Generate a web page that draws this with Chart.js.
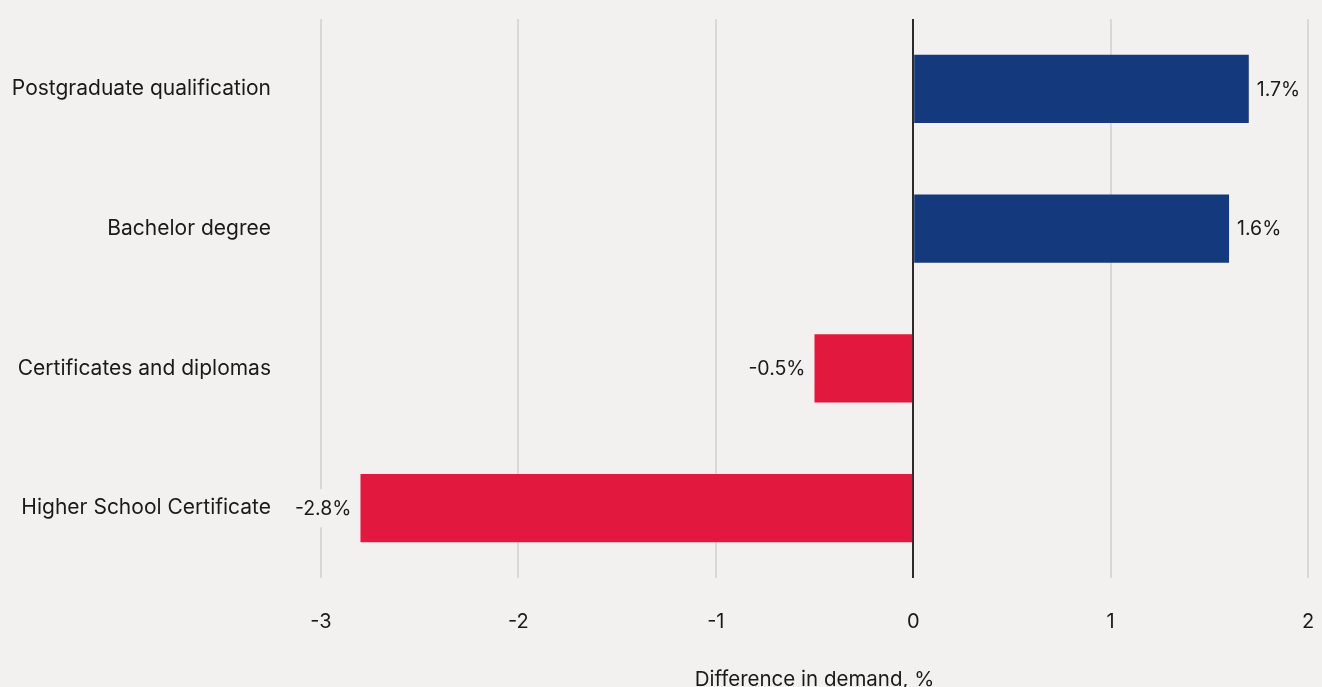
<!DOCTYPE html>
<html>
<head>
<meta charset="utf-8">
<script src="https://cdn.jsdelivr.net/npm/chart.js@4"></script>
<style>
  body { margin: 0; background: #f2f1ef; }
  canvas { display: block; }
</style>
</head>
<body>
<canvas id="chart" width="1322" height="687"></canvas>
<script>
const categories = ['Postgraduate qualification', 'Bachelor degree', 'Certificates and diplomas', 'Higher School Certificate'];
const values = [1.7, 1.6, -0.5, -2.8];
const xTicks = [-3, -2, -1, 0, 1, 2];

const BG = '#f2f1ef';
const FONT = 'Inter, "Noto Sans", sans-serif';

// value labels at bar ends, with a patch of background behind them
const barLabels = {
  id: 'barLabels',
  afterDatasetsDraw(chart) {
    const ctx = chart.ctx;
    const meta = chart.getDatasetMeta(0);
    ctx.save();
    ctx.font = '19.5px ' + FONT;
    ctx.textBaseline = 'middle';
    meta.data.forEach((bar, i) => {
      const v = values[i];
      const txt = v.toFixed(1) + '%';
      const w = ctx.measureText(txt).width;
      let x;
      if (v >= 0) {
        x = bar.x + 8;
      } else {
        x = bar.x - 9 - w;
      }
      ctx.fillStyle = BG;
      ctx.fillRect(x - 4, bar.y - 19, w + 8, 38);
      ctx.fillStyle = '#1a1a1a';
      ctx.textAlign = 'left';
      ctx.fillText(txt, x, bar.y + 1);
    });
    ctx.restore();
  }
};

const noPad = (s) => {
  s.paddingLeft = 0; s.paddingRight = 0;
  s.paddingTop = 0; s.paddingBottom = 0;
};

new Chart(document.getElementById('chart'), {
  type: 'bar',
  data: {
    labels: categories,
    datasets: [{
      data: values,
      backgroundColor: values.map(v => v >= 0 ? '#14397d' : '#e3183f'),
      barPercentage: 0.49,
      categoryPercentage: 1
    }]
  },
  options: {
    indexAxis: 'y',
    responsive: false,
    animation: false,
    layout: { padding: { top: 19, right: 14, left: 0, bottom: 0 } },
    plugins: {
      legend: { display: false },
      tooltip: { enabled: false }
    },
    scales: {
      x: {
        min: -3,
        max: 2,
        afterBuildTicks: (s) => { s.ticks = xTicks.map(v => ({ value: v })); },
        afterFit: (s) => { s.height = 109; noPad(s); },
        border: { display: false },
        grid: {
          drawTicks: false,
          color: (c) => c.tick && c.tick.value === 0 ? '#2b2b2b' : '#d8d8d8',
          lineWidth: 2
        },
        ticks: {
          padding: 32,
          color: '#1a1a1a',
          font: { family: FONT, size: 20 }
        },
        title: {
          display: true,
          text: 'Difference in demand, %',
          color: '#1a1a1a',
          font: { family: FONT, size: 20.5 },
          padding: { top: 30, bottom: -5 }
        }
      },
      y: {
        afterFit: (s) => { s.width = 321; noPad(s); },
        border: { display: false },
        grid: { display: false, drawTicks: false },
        ticks: {
          padding: 50,
          color: '#1a1a1a',
          font: { family: FONT, size: 21 }
        }
      }
    }
  },
  plugins: [barLabels]
});
</script>
</body>
</html>
